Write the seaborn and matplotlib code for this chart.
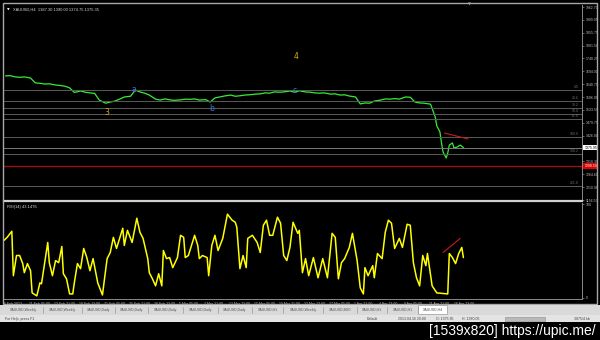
import numpy as np
import pandas as pd
import matplotlib
matplotlib.use("Agg")
import matplotlib.pyplot as plt
import matplotlib.transforms as mtrans
from matplotlib.patches import Rectangle
from matplotlib.lines import Line2D
import seaborn as sns

# ---------------- data ----------------
price_bar = [1, 4, 7, 10, 13, 17, 20, 23, 26, 29, 33, 36, 39, 42, 45, 49, 52, 55, 58, 61,
             65, 68, 71, 74, 77, 81, 84, 87, 90, 93, 97, 100, 103, 106, 109, 113, 116, 119,
             122, 125, 129, 132, 135, 138, 141, 145, 148, 151, 154, 157, 161, 164, 167, 170,
             173, 177, 180, 183, 186, 189, 193, 196, 199, 202, 205, 209, 212, 215, 218, 221,
             225, 228, 231, 234, 237, 241, 244, 247, 250, 253, 257, 260, 263, 266, 269, 273,
             276, 277, 279, 280, 281, 283, 284, 285, 287, 288, 290, 292, 294]
price_close = [1675, 1676, 1671, 1669, 1671, 1666, 1646, 1644, 1641, 1642, 1637, 1635, 1632,
               1625, 1606, 1612, 1607, 1604, 1602, 1574, 1561, 1566, 1570, 1578, 1587, 1590,
               1616, 1608, 1603, 1595, 1578, 1574, 1579, 1575, 1573, 1575, 1578, 1577, 1579,
               1574, 1576, 1566, 1583, 1587, 1591, 1595, 1590, 1592, 1595, 1596, 1599, 1600,
               1604, 1603, 1608, 1607, 1609, 1612, 1607, 1613, 1608, 1607, 1604, 1603, 1604,
               1599, 1600, 1595, 1596, 1591, 1587, 1558, 1562, 1561, 1570, 1574, 1579, 1578,
               1580, 1578, 1587, 1586, 1566, 1562, 1561, 1557, 1503, 1466, 1441, 1395, 1357,
               1332, 1353, 1386, 1395, 1374, 1378, 1386, 1376]

rsi_bar = [0, 2, 5, 6, 8, 10, 12, 13, 15, 17, 18, 21, 23, 24, 28, 29, 31, 33, 35, 37, 38, 40,
           42, 44, 45, 47, 49, 51, 53, 55, 57, 60, 63, 66, 68, 70, 72, 74, 76, 77, 79, 82, 85,
           87, 89, 92, 93, 95, 97, 99, 101, 102, 104, 106, 108, 111, 113, 115, 116, 118, 120,
           122, 124, 125, 127, 130, 131, 133, 135, 137, 140, 143, 146, 148, 149, 151, 153, 155,
           156, 159, 162, 164, 166, 168, 170, 172, 175, 177, 179, 181, 183, 185, 188, 189, 191,
           193, 195, 198, 201, 204, 207, 210, 212, 214, 216, 218, 221, 223, 226, 228, 230, 231,
           233, 236, 237, 239, 242, 244, 246, 248, 250, 253, 255, 258, 260, 262, 264, 266, 268,
           270, 271, 274, 277, 284, 285, 287, 289, 291, 293, 294]
rsi_val = [61.3, 64.5, 71.0, 23.7, 45.2, 45.2, 36.6, 26.9, 36.6, 29.0, 5.4, 2.2, 16.1, 15.1,
           59.1, 37.6, 23.7, 39.8, 37.6, 54.8, 25.8, 20.4, 4.3, 4.3, 16.1, 36.6, 31.2, 52.7,
           43.0, 29.0, 41.9, 16.1, 3.2, 41.9, 48.4, 64.5, 52.7, 63.4, 74.2, 55.9, 72.0, 59.1,
           84.9, 69.9, 63.4, 41.9, 26.9, 20.4, 12.9, 25.8, 12.9, 50.5, 41.9, 43.0, 32.3, 43.0,
           66.7, 64.5, 43.0, 45.2, 55.9, 66.7, 55.9, 41.9, 45.2, 43.0, 23.7, 55.9, 66.7, 50.5,
           63.4, 89.2, 82.8, 80.6, 75.3, 31.2, 45.2, 32.3, 63.4, 66.7, 59.1, 48.4, 77.4, 82.8,
           66.7, 66.7, 86.0, 79.6, 45.2, 39.8, 53.8, 80.6, 68.8, 72.0, 26.9, 41.9, 23.7, 43.0,
           21.5, 41.9, 21.5, 68.8, 64.5, 20.4, 37.6, 41.9, 53.8, 68.8, 39.8, 10.8, 4.3, 32.3,
           23.7, 34.4, 21.5, 47.3, 41.9, 69.9, 82.8, 79.6, 52.7, 63.4, 53.8, 78.5, 77.4, 37.6,
           21.5, 12.9, 45.2, 34.4, 47.3, 12.9, 5.4, 4.3, 47.3, 43.0, 36.6, 47.3, 53.8, 43.0]

time_labels = ["6 Feb 2013", "11 Feb 05:00", "13 Feb 21:00", "18 Feb 13:00", "21 Feb 05:00",
               "25 Feb 21:00", "28 Feb 13:00", "5 Mar 05:00", "7 Mar 21:00", "12 Mar 13:00",
               "15 Mar 05:00", "19 Mar 21:00", "22 Mar 13:00", "27 Mar 05:00", "1 Apr 21:00",
               "4 Apr 13:00", "9 Apr 05:00", "11 Apr 21:00", "16 Apr 13:00"]
time_tick_bars = [16 * k for k in range(len(time_labels))]

price_ticks = [1962.70, 1909.05, 1855.75, 1801.50, 1748.25, 1694.00, 1640.75, 1586.90,
               1533.55, 1479.75, 1426.00, 1318.30, 1264.60, 1210.90, 1156.50]
fib_levels = [1616.1, 1570.2, 1540.9, 1515.9, 1495.0, 1419.8, 1348.8, 1215.2]
fib_labels = ["0.0", "23.6", "38.2", "50.0", "61.8", "100.0", "138.2", "261.8"]
bid_price = 1375.95
red_level = 1298.50

wave_text = ["3", "4", "a", "b", "c"]
wave_bar = [66, 187, 83, 133, 186]
wave_price = [1524, 1758, 1620, 1537, 1612]
wave_color = ["#d8b400", "#d8b400", "#3f6fe0", "#3f6fe0", "#3f6fe0"]

price_trend_bar = [282, 297]
price_trend_val = [1436.5, 1411.5]
rsi_trend_bar = [281, 292]
rsi_trend_val = [48.4, 63.4]

tabs = ["XAUUSD,Weekly", "XAUUSD,Weekly", "XAUUSD,Daily", "XAUUSD,Daily", "XAUUSD,Daily",
        "XAUUSD,Daily", "XAUUSD,Daily", "XAUUSD,H1", "XAUUSD,Weekly", "XAUUSD,M30",
        "XAUUSD,H1", "XAUUSD,H1", "XAUUSD,H4"]
tab_edges = [4, 43, 82, 115, 148, 183, 218, 252, 283, 323, 357, 387, 418, 447]

# ---------------- figure ----------------
sns.set_style("dark")
plt.rcParams["font.family"] = ["DejaVu Sans"]
SMALL = ["Liberation Sans", "DejaVu Sans"]

W, H = 600, 340
fig = plt.figure(figsize=(6, 3.4), dpi=100, facecolor="black")


def fx(px):
    return px / W


def fy(py):
    return 1 - py / H


def add_ax(l, t, r, b):
    return fig.add_axes([fx(l), fy(b), (r - l) / W, (b - t) / H])


def prect(l, t, r, b, **kw):
    fig.add_artist(Rectangle((fx(l), fy(b)), (r - l) / W, (b - t) / H,
                             transform=fig.transFigure, **kw))


GRAY = "#8a8a8a"
TXT = "#bdbdbd"
XMAX = 578 * 0.64
FS = 2.5

# window frame
prect(3, 3, 597, 304, fill=False, edgecolor="#a8a8a8", linewidth=1.0)

# ---- main price panel ----
ax = add_ax(4, 5, 582, 201)
ax.set_facecolor("black")
df_p = pd.DataFrame({"bar": price_bar, "close": price_close})
sns.lineplot(data=df_p, x="bar", y="close", ax=ax, color="#33ee33", linewidth=0.9)
ax.set_xlim(0, XMAX)
ax.set_ylim(1152.6, 1971.1)
for lv in fib_levels:
    ax.axhline(lv, color="#5a5a5a", linewidth=0.7)
ax.axhline(bid_price, color="#7a7a7a", linewidth=0.7)
ax.axhline(red_level, color="#9b1010", linewidth=1.0)
for lv, lb in zip(fib_levels, fib_labels):
    ax.text(XMAX - 2, lv + 4, lb, color="#6a6a6a", fontsize=FS, ha="right", va="bottom",
            family=SMALL)
sns.lineplot(x=price_trend_bar, y=price_trend_val, ax=ax, color="#d01818", linewidth=0.8)
for t, b, p, c in zip(wave_text, wave_bar, wave_price, wave_color):
    ax.text(b, p, t, color=c, fontsize=5.5, ha="center", va="center")

ax.yaxis.tick_right()
ax.set_yticks(price_ticks)
ax.set_yticklabels([f"{v:.2f}" for v in price_ticks], fontsize=FS, color=TXT, family=SMALL)
ax.tick_params(axis="y", length=1.5, width=0.5, color=GRAY, pad=1.0)
ax.set_xticks([])
ax.set_xlabel("")
ax.set_ylabel("")
ax.grid(False)
for s in ["left", "top"]:
    ax.spines[s].set_visible(False)
ax.spines["right"].set_color(GRAY)
ax.spines["right"].set_linewidth(0.7)
ax.spines["bottom"].set_color("#cfcfcf")
ax.spines["bottom"].set_linewidth(1.6)

blend = mtrans.blended_transform_factory(ax.transAxes, ax.transData)
ax.text(1.004, bid_price, f"{bid_price:.2f}", transform=blend, fontsize=FS, color="black",
        va="center", ha="left", family=SMALL,
        bbox=dict(boxstyle="square,pad=0.25", fc="white", ec="white", lw=0))
ax.text(1.004, red_level, f"{red_level:.2f}", transform=blend, fontsize=FS, color="white",
        va="center", ha="left", family=SMALL,
        bbox=dict(boxstyle="square,pad=0.25", fc="#e00000", ec="#e00000", lw=0))
ax.text(0.006, 0.985, "\u25bc", transform=ax.transAxes, fontsize=2.5, color="white",
        va="top", ha="left")
ax.text(0.016, 0.985, "XAUUSD,H4  1387.30 1390.00 1374.75 1375.35", transform=ax.transAxes,
        fontsize=2.9, color="#d8d8d8", va="top", ha="left", family=SMALL)
ax.text(0.8045, 1.0, "\u25bc", transform=ax.transAxes, fontsize=2.8, color="#9a9a9a",
        va="center", ha="center")

# ---- RSI panel ----
ax2 = add_ax(4, 203, 582, 299)
ax2.set_facecolor("black")
df_r = pd.DataFrame({"bar": rsi_bar, "rsi": rsi_val})
sns.lineplot(data=df_r, x="bar", y="rsi", ax=ax2, color="#ffff00", linewidth=1.1)
sns.lineplot(x=rsi_trend_bar, y=rsi_trend_val, ax=ax2, color="#d01818", linewidth=0.8)
ax2.set_xlim(0, XMAX)
ax2.set_ylim(-1.1, 101.1)
ax2.yaxis.tick_right()
ax2.set_yticks([0, 100])
ax2.set_yticklabels(["0", "100"], fontsize=FS, color=TXT, family=SMALL)
ax2.tick_params(axis="y", length=1.5, width=0.5, color=GRAY, pad=1.0)
ax2.set_xticks(time_tick_bars)
ax2.set_xticklabels(time_labels, fontsize=FS, color=TXT, ha="left", family=SMALL)
ax2.tick_params(axis="x", length=1.5, width=0.5, color=GRAY, pad=0.8)
ax2.set_xlabel("")
ax2.set_ylabel("")
ax2.grid(False)
for s in ["left", "top"]:
    ax2.spines[s].set_visible(False)
for s in ["right", "bottom"]:
    ax2.spines[s].set_color(GRAY)
    ax2.spines[s].set_linewidth(0.7)
ax2.text(0.006, 0.975, "RSI(14) 43.1476", transform=ax2.transAxes, fontsize=2.9,
         color="#d8d8d8", va="top", ha="left", family=SMALL)

# ---- tab bar and status bar ----
prect(0, 305, 600, 322, facecolor="#d9d9d9", edgecolor="none")
prect(0, 315, 600, 322, facecolor="#e4e4e4", edgecolor="none")
for i, name in enumerate(tabs):
    l, r = tab_edges[i], tab_edges[i + 1]
    active = i == len(tabs) - 1
    if active:
        prect(l, 305, r, 314, facecolor="white", edgecolor="#9a9a9a", linewidth=0.5)
    else:
        fig.add_artist(Line2D([fx(r), fx(r)], [fy(307), fy(313)], transform=fig.transFigure,
                              color="#9a9a9a", linewidth=0.5))
    fig.text(fx((l + r) / 2), fy(310), name, fontsize=FS, color="#505050",
             ha="center", va="center", family=SMALL)
fig.text(fx(5), fy(319), "For Help, press F1", fontsize=FS, color="#404040", va="center",
         family=SMALL)
fig.text(fx(367), fy(319), "Default", fontsize=FS, color="#404040", va="center", family=SMALL)
fig.text(fx(398), fy(319), "2013.04.16 20:00", fontsize=FS, color="#404040", va="center",
         family=SMALL)
fig.text(fx(436), fy(319), "O: 1375.95", fontsize=FS, color="#404040", va="center",
         family=SMALL)
fig.text(fx(462), fy(319), "H: 1380.05", fontsize=FS, color="#404040", va="center",
         family=SMALL)
prect(505, 317, 545, 321, facecolor="#b9b9b9", edgecolor="#8c8c8c", linewidth=0.4)
fig.text(fx(574), fy(319), "3875/4 kb", fontsize=FS, color="#404040", va="center",
         family=SMALL)

fig.text(fx(596), fy(330.5), "[1539x820] https://upic.me/", fontsize=10, color="white",
         ha="right", va="center", family=SMALL)

fig.savefig("out.png", dpi=100, facecolor="black")
